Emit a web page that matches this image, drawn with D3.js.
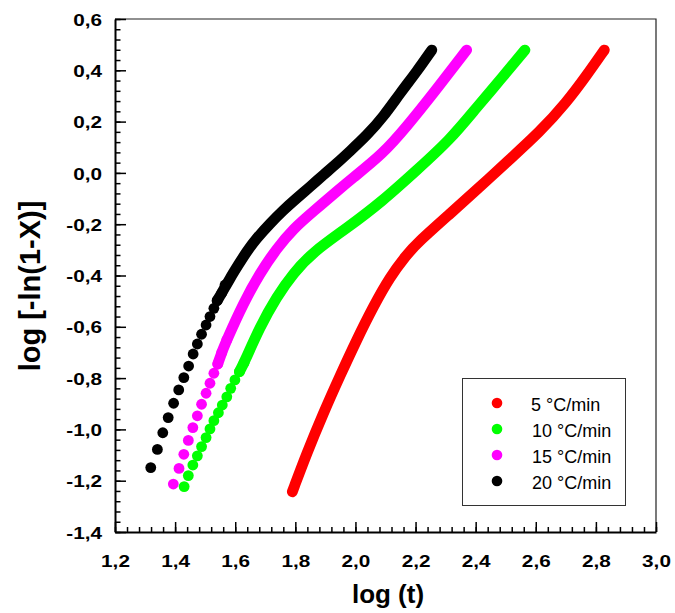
<!DOCTYPE html>
<html>
<head>
<meta charset="utf-8">
<script src="https://cdn.jsdelivr.net/npm/d3@7"></script>
<style>
  body { margin: 0; background: #fff; }
  text { font-family: "Liberation Sans", Arial, sans-serif; }
</style>
</head>
<body>
<svg id="chart" width="675" height="613"></svg>
<script>
// Heating rates shown in the legend
const rateLabels = ['5 °C/min', '10 °C/min', '15 °C/min', '20 °C/min'];
const rateColors = ['#ff0000', '#00ff00', '#ff00ff', '#000000'];

// Axis ticks
const xTicks = [1.2, 1.4, 1.6, 1.8, 2.0, 2.2, 2.4, 2.6, 2.8, 3.0];
const yTicks = [-1.4, -1.2, -1.0, -0.8, -0.6, -0.4, -0.2, 0.0, 0.2, 0.4, 0.6];

// 5 C/min - points packed tight
const rate5LogT = [1.790, 1.838, 1.893, 1.949, 2.004, 2.059, 2.115, 2.170, 2.204, 2.314, 2.414, 2.503, 2.614, 2.703, 2.769, 2.828];
const rate5LogK = [-1.243, -1.093, -0.937, -0.790, -0.651, -0.522, -0.405, -0.320, -0.275, -0.160, -0.055, 0.042, 0.160, 0.276, 0.380, 0.479];

// 10 C/min - separate markers at the start, then packed
const rate10DotT = [1.430, 1.444, 1.459, 1.474, 1.488, 1.503, 1.516, 1.529, 1.544, 1.557, 1.572, 1.585, 1.599, 1.614, 1.629];
const rate10DotK = [-1.223, -1.180, -1.139, -1.103, -1.067, -1.032, -0.998, -0.966, -0.935, -0.905, -0.873, -0.840, -0.807, -0.775, -0.742];
const rate10LogT = [1.614, 1.629, 1.682, 1.738, 1.793, 1.860, 1.971, 2.090, 2.204, 2.314, 2.403, 2.481, 2.564];
const rate10LogK = [-0.775, -0.742, -0.600, -0.483, -0.391, -0.307, -0.216, -0.110, 0.011, 0.128, 0.255, 0.362, 0.479];

// 15 C/min
const rate15DotT = [1.394, 1.413, 1.429, 1.444, 1.459, 1.474, 1.488, 1.503, 1.516, 1.529, 1.542, 1.555, 1.572];
const rate15DotK = [-1.213, -1.152, -1.097, -1.043, -0.993, -0.947, -0.902, -0.859, -0.820, -0.781, -0.745, -0.700, -0.651];
const rate15LogT = [1.542, 1.555, 1.572, 1.627, 1.682, 1.738, 1.793, 1.860, 1.948, 1.982, 2.093, 2.170, 2.259, 2.370];
const rate15LogK = [-0.745, -0.700, -0.651, -0.508, -0.391, -0.295, -0.218, -0.150, -0.062, -0.028, 0.076, 0.180, 0.310, 0.479];

// 20 C/min
const rate20DotT = [1.319, 1.341, 1.359, 1.377, 1.395, 1.412, 1.429, 1.445, 1.460, 1.474, 1.488, 1.503, 1.516, 1.529, 1.540, 1.555, 1.566];
const rate20DotK = [-1.149, -1.078, -1.013, -0.954, -0.898, -0.846, -0.798, -0.753, -0.706, -0.667, -0.629, -0.593, -0.560, -0.528, -0.498, -0.469, -0.437];
const rate20LogT = [1.540, 1.555, 1.583, 1.610, 1.638, 1.671, 1.716, 1.760, 1.804, 1.849, 1.893, 1.938, 1.982, 2.037, 2.093, 2.148, 2.204, 2.254];
const rate20LogK = [-0.498, -0.469, -0.410, -0.359, -0.307, -0.255, -0.197, -0.145, -0.099, -0.054, -0.008, 0.037, 0.085, 0.145, 0.219, 0.310, 0.395, 0.479];

const zip = (a, b) => a.map((v, i) => ({ x: v, y: b[i] }));

const series = [
  { dots: [], band: zip(rate5LogT, rate5LogK), color: rateColors[0] },
  { dots: zip(rate10DotT, rate10DotK), band: zip(rate10LogT, rate10LogK), color: rateColors[1] },
  { dots: zip(rate15DotT, rate15DotK), band: zip(rate15LogT, rate15LogK), color: rateColors[2] },
  { dots: zip(rate20DotT, rate20DotK), band: zip(rate20LogT, rate20LogK), color: rateColors[3] }
];

const plotLeft = 115, plotRight = 656, plotTop = 19, plotBottom = 532;
const radius = 5.4;

const xScale = d3.scaleLinear().domain([1.2, 3.0]).range([plotLeft, plotRight]);
const yScale = d3.scaleLinear().domain([-1.4, 0.6]).range([plotBottom, plotTop]);

const fmt = d => d.toFixed(1).replace('.', ',').replace('-0,0', '0,0');
const minorX = d3.range(1.2, 3.0001, 0.04);
const minorY = d3.range(-1.4, 0.6001, 0.04);

const svg = d3.select('#chart');

// frame top and right
svg.append('path')
  .attr('d', `M${plotLeft},${plotTop}H${plotRight}V${plotBottom}`)
  .attr('fill', 'none')
  .attr('stroke', '#222')
  .attr('stroke-width', 1.2);

// minor ticks
svg.append('g')
  .attr('transform', `translate(0,${plotBottom})`)
  .call(d3.axisBottom(xScale).tickValues(minorX).tickSize(-5).tickFormat(''))
  .call(g => g.select('.domain').remove())
  .selectAll('line').attr('stroke', '#000').attr('stroke-width', 1.5);

svg.append('g')
  .attr('transform', `translate(${plotLeft},0)`)
  .call(d3.axisLeft(yScale).tickValues(minorY).tickSize(-5.5).tickFormat(''))
  .call(g => g.select('.domain').remove())
  .selectAll('line').attr('stroke', '#000').attr('stroke-width', 1.5);

// major ticks + labels
const xAxis = svg.append('g')
  .attr('transform', `translate(0,${plotBottom})`)
  .call(d3.axisBottom(xScale).tickValues(xTicks).tickSize(-10).tickSizeOuter(0).tickFormat(fmt));

xAxis.select('.domain').attr('stroke', '#000').attr('stroke-width', 2);
xAxis.selectAll('line').attr('stroke', '#000').attr('stroke-width', 1.5);
xAxis.selectAll('text')
  .attr('y', 35)
  .attr('dy', 0)
  .attr('font-size', 17)
  .attr('font-weight', 'bold')
  .attr('fill', '#000')
  .attr('font-family', '"Liberation Sans", Arial, sans-serif')
  .attr('transform', 'scale(1.22,1)');

const yAxis = svg.append('g')
  .attr('transform', `translate(${plotLeft},0)`)
  .call(d3.axisLeft(yScale).tickValues(yTicks).tickSize(-11).tickSizeOuter(0).tickFormat(fmt));

yAxis.select('.domain').attr('stroke', '#000').attr('stroke-width', 2);
yAxis.selectAll('line').attr('stroke', '#000').attr('stroke-width', 1.5);
yAxis.selectAll('text')
  .attr('x', -13 / 1.22)
  .attr('dy', '0.36em')
  .attr('font-size', 17)
  .attr('font-weight', 'bold')
  .attr('fill', '#000')
  .attr('font-family', '"Liberation Sans", Arial, sans-serif')
  .attr('transform', 'scale(1.22,1)');

// axis titles
svg.append('text')
  .text('log (t)')
  .attr('x', 388)
  .attr('y', 603)
  .attr('text-anchor', 'middle')
  .attr('font-size', 26)
  .attr('font-weight', 'bold');

svg.append('text')
  .text('log [-ln(1-X)]')
  .attr('transform', 'translate(40,286) rotate(-90)')
  .attr('text-anchor', 'middle')
  .attr('font-size', 29)
  .attr('font-weight', 'bold');

// packed markers drawn as one thick round line, loose ones as circles
const bandLine = d3.line()
  .x(d => xScale(d.x))
  .y(d => yScale(d.y))
  .curve(d3.curveBasis);

series.forEach(s => {
  svg.append('path')
    .attr('d', bandLine(s.band))
    .attr('fill', 'none')
    .attr('stroke', s.color)
    .attr('stroke-width', radius * 2)
    .attr('stroke-linecap', 'round')
    .attr('stroke-linejoin', 'round');

  svg.append('g')
    .selectAll('circle')
    .data(s.dots)
    .enter()
    .append('circle')
    .attr('cx', d => xScale(d.x))
    .attr('cy', d => yScale(d.y))
    .attr('r', radius)
    .attr('fill', s.color);
});

// legend
const legend = svg.append('g');
legend.append('rect')
  .attr('x', 462.5)
  .attr('y', 378.5)
  .attr('width', 163)
  .attr('height', 127)
  .attr('fill', '#fff')
  .attr('stroke', '#333')
  .attr('stroke-width', 1);

const items = legend.selectAll('g.item')
  .data(rateLabels)
  .enter()
  .append('g')
  .attr('transform', (d, i) => `translate(497,${403 + i * 26})`);

items.append('circle')
  .attr('r', 5.3)
  .attr('fill', (d, i) => rateColors[i]);

items.append('text')
  .text(d => d)
  .attr('x', (d, i) => i === 0 ? 34 : 35)
  .attr('y', 8)
  .attr('font-size', 18)
  .attr('fill', '#000');
</script>
</body>
</html>
